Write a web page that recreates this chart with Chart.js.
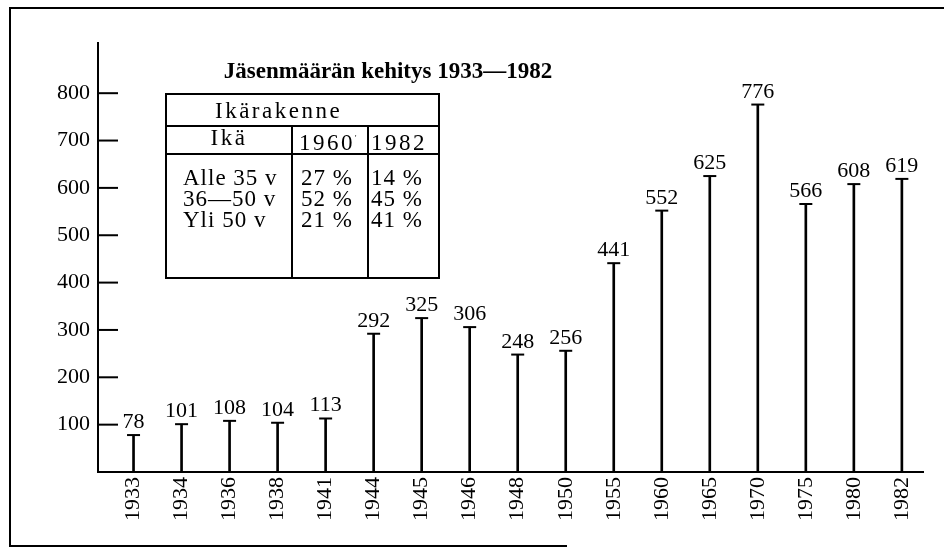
<!DOCTYPE html>
<html>
<head>
<meta charset="utf-8">
<script src="https://cdn.jsdelivr.net/npm/chart.js@4/dist/chart.umd.min.js"></script>
<style>
    html, body {
        margin: 0;
        padding: 0;
        background: #fff;
    }
    #wrap {
        position: relative;
        width: 944px;
        height: 549px;
        overflow: hidden;
    }
    #frame {
        position: absolute;
        left: 9px;
        top: 7px;
        width: 940px;
        height: 537px;
        border-left: 2px solid #000;
        border-top: 2px solid #000;
    }
    #frameBottom {
        position: absolute;
        left: 9px;
        top: 545px;
        width: 558px;
        border-top: 2px solid #000;
    }
    #ageTable {
        position: absolute;
        left: 165px;
        top: 93px;
        width: 273px;
        height: 184px;
        border-collapse: collapse;
        table-layout: fixed;
        font-family: 'Liberation Serif', 'Times New Roman', serif;
        font-size: 23px;
        letter-spacing: 1px;
        color: #000;
    }
    #ageTable td {
        border: 2px solid #000;
        padding: 0;
        line-height: 21px;
        white-space: nowrap;
        overflow: visible;
    }
    #ageTable .head {
        letter-spacing: 2.5px;
    }
</style>
</head>
<body>
<div id="wrap">
    <canvas id="memberChart" width="944" height="549"></canvas>
    <div id="frame"></div>
    <div id="frameBottom"></div>
    <table id="ageTable"></table>
</div>
<script>
const years = ['1933', '1934', '1936', '1938', '1941', '1944', '1945', '1946', '1948',
        '1950', '1955', '1960', '1965', '1970', '1975', '1980', '1982'],
    members = [78, 101, 108, 104, 113, 292, 325, 306, 248, 256, 441, 552, 625, 776, 566, 608, 619],
    yTicks = [100, 200, 300, 400, 500, 600, 700, 800],
    ageGroups = ['Alle 35 v', '36—50 v', 'Yli 50 v'],
    share1960 = [27, 52, 21],
    share1982 = [14, 45, 41],
    title = 'Jäsenmäärän kehitys 1933—1982',
    serif = "'Liberation Serif', 'Times New Roman', serif";

// taulukko ikärakenteesta
const table = document.getElementById('ageTable');
table.innerHTML = `
    <colgroup><col style="width:126px"><col style="width:76px"><col style="width:71px"></colgroup>
    <tr style="height:32px"><td colspan="3" class="head" style="padding-left:48px">Ikärakenne</td></tr>
    <tr style="height:28px">
        <td class="head" style="text-align:center;vertical-align:top">Ikä</td>
        <td class="head" style="padding-left:6px;vertical-align:bottom">1960<sup style="font-size:8px">'</sup></td>
        <td class="head" style="padding-left:2px;vertical-align:bottom">1982</td>
    </tr>
    <tr style="height:124px">
        <td style="vertical-align:top;padding:12px 0 0 16px">${ageGroups.join('<br>')}</td>
        <td style="vertical-align:top;padding:12px 0 0 8px">${share1960.map(v => v + ' %').join('<br>')}</td>
        <td style="vertical-align:top;padding:12px 0 0 2px">${share1982.map(v => v + ' %').join('<br>')}</td>
    </tr>`;

// T-päät, arvot, sisäänpäin olevat y-tikit ja otsikko
const stemPlugin = {
    id: 'stems',
    afterDatasetsDraw(chart) {
        const c = chart.ctx,
            area = chart.chartArea,
            yScale = chart.scales.y,
            meta = chart.getDatasetMeta(0);
        c.save();
        c.strokeStyle = '#000';
        c.fillStyle = '#000';
        c.lineWidth = 2;
        yTicks.forEach(v => {
            const py = yScale.getPixelForValue(v);
            c.beginPath();
            c.moveTo(area.left, py);
            c.lineTo(area.left + 20, py);
            c.stroke();
        });
        c.font = `22px ${serif}`;
        c.textAlign = 'center';
        c.textBaseline = 'alphabetic';
        meta.data.forEach((bar, i) => {
            c.beginPath();
            c.moveTo(bar.x - 6.5, bar.y);
            c.lineTo(bar.x + 6.5, bar.y);
            c.stroke();
            c.fillText(String(members[i]), bar.x, bar.y - 7);
        });
        c.font = `bold 23px ${serif}`;
        c.fillText(title, 388, 78);
        c.restore();
    }
};

new Chart(document.getElementById('memberChart').getContext('2d'), {
    type: 'bar',
    data: {
        datasets: [{
            data: members.map((v, i) => ({ x: i, y: v })),
            backgroundColor: '#000',
            borderWidth: 0,
            barThickness: 2
        }]
    },
    plugins: [stemPlugin],
    options: {
        responsive: false,
        animation: false,
        layout: {
            padding: { top: 43, right: 21, left: 0, bottom: 0 }
        },
        plugins: {
            legend: { display: false },
            tooltip: { enabled: false }
        },
        scales: {
            x: {
                type: 'linear',
                offset: false,
                min: -0.74,
                max: 16.44,
                grid: { display: false, drawTicks: false },
                border: { display: true, color: '#000', width: 2 },
                afterBuildTicks: scale => {
                    scale.ticks = years.map((_, i) => ({ value: i }));
                },
                afterFit: scale => {
                    scale.height = 77;
                },
                ticks: {
                    autoSkip: false,
                    minRotation: 90,
                    maxRotation: 90,
                    padding: 5,
                    color: '#000',
                    font: { family: serif, size: 22 },
                    callback: v => years[v]
                }
            },
            y: {
                min: 0,
                max: 906,
                grid: { display: false, drawTicks: false },
                border: { display: true, color: '#000', width: 2 },
                afterBuildTicks: scale => {
                    scale.ticks = yTicks.map(v => ({ value: v }));
                },
                afterFit: scale => {
                    scale.width = 98;
                },
                ticks: {
                    padding: 8,
                    color: '#000',
                    font: { family: serif, size: 22 }
                }
            }
        }
    }
});
</script>
</body>
</html>
